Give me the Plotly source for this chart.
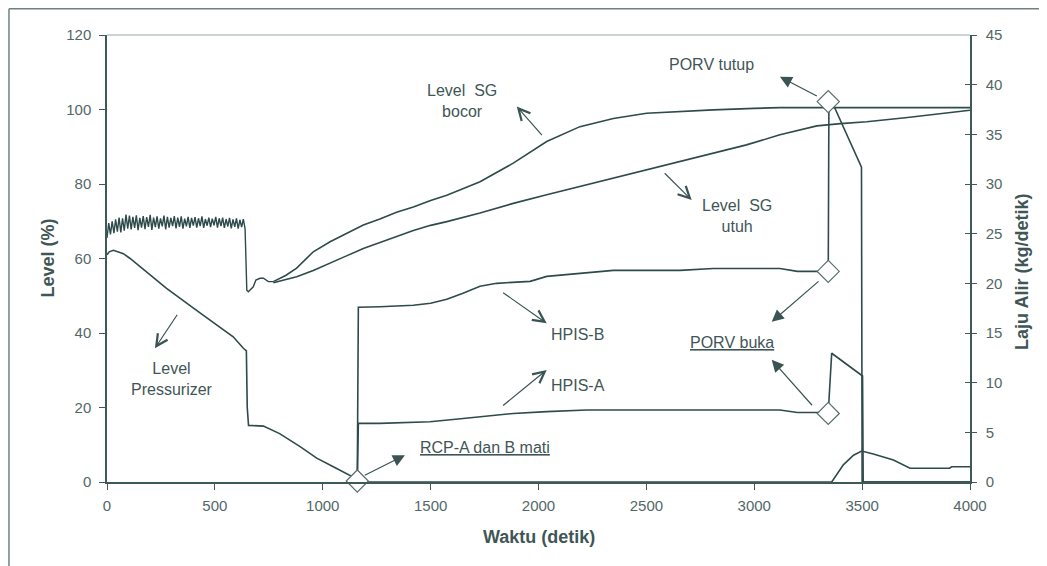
import plotly.graph_objects as go

# ---------------- data ----------------
# shared SG level (both generators identical before divergence), left axis (%)
sg_noise_t = list(range(0, 641, 8))
sg_noise_v = [65.5, 69.5, 66.5, 70.0, 66.8, 70.5, 67.2, 71.0, 67.0, 70.8,
              67.5, 71.8, 68.0, 71.5, 67.8, 71.2, 68.2, 71.6, 67.6, 70.9,
              68.3, 71.4, 67.9, 71.1, 68.5, 71.7, 67.7, 71.0, 68.4, 71.3,
              68.0, 70.8, 68.6, 71.5, 67.8, 71.2, 68.3, 70.9, 68.7, 71.4,
              68.1, 71.0, 68.5, 71.3, 68.0, 70.7, 68.6, 71.2, 68.2, 70.9,
              68.8, 71.1, 68.3, 70.8, 68.7, 71.3, 68.2, 70.6, 68.8, 71.0,
              68.4, 70.7, 68.9, 71.2, 68.3, 70.8, 68.7, 71.0, 68.2, 70.6,
              68.6, 70.9, 68.1, 70.5, 68.5, 70.8, 68.0, 70.4, 68.4, 70.6, 68.0]
sg_dip_t = [644, 648, 655, 665, 678, 690, 709, 725, 748, 771]
sg_dip_v = [60.0, 51.5, 51.1, 51.8, 52.4, 54.2, 54.7, 54.7, 53.8, 53.8]

sg_bocor_t = [771, 830, 879, 956, 1034, 1110, 1188, 1265, 1342, 1420, 1500, 1575,
              1729, 1883, 2038, 2192, 2347, 2501, 2656, 2810, 3000, 3119, 3366, 4000]
sg_bocor_v = [53.8, 55.5, 57.4, 61.8, 64.5, 66.8, 69.0, 70.6, 72.4, 73.8, 75.6, 77.0,
              80.6, 85.6, 91.4, 95.4, 97.6, 99.0, 99.5, 99.9, 100.3, 100.5, 100.5, 100.5]

sg_utuh_t = [771, 879, 956, 1034, 1110, 1188, 1265, 1342, 1420, 1500, 1575, 1729,
             1883, 2038, 2192, 2347, 2501, 2656, 2810, 2964, 3119, 3200, 3290, 3400,
             3521, 3700, 3900, 4000]
sg_utuh_v = [53.5, 55.1, 56.8, 58.7, 60.7, 62.7, 64.3, 66.0, 67.5, 68.9, 69.9, 72.2,
             74.8, 77.1, 79.3, 81.6, 83.8, 86.0, 88.2, 90.5, 93.2, 94.4, 95.6, 96.2,
             96.7, 97.8, 99.0, 99.8]

przr_t = [0, 10, 30, 76, 107, 153, 276, 431, 585, 632, 646, 650, 656, 725, 800, 895,
          972, 1049, 1142, 1165, 1172, 3359, 3413, 3460, 3498, 3552, 3645, 3722,
          3905, 3915, 4000]
przr_v = [61.0, 61.8, 62.2, 61.3, 60.0, 57.8, 52.0, 45.4, 39.0, 35.9, 35.2, 20.0,
          15.2, 15.0, 13.0, 9.5, 6.4, 4.1, 1.4, 0.6, 0.0, 0.0, 4.6, 7.2, 8.3, 7.5,
          5.9, 3.7, 3.7, 4.1, 4.1]

# HPIS flows, right axis (kg/detik)
hpis_b_t = [1160, 1165, 1265, 1420, 1500, 1575, 1650, 1729, 1806, 1961, 2038,
            2192, 2347, 2656, 2810, 3119, 3200, 3343, 3346, 3366, 3497, 3500, 4000]
hpis_b_v = [0.0, 17.6, 17.65, 17.8, 18.0, 18.4, 19.0, 19.7, 20.0, 20.2, 20.7,
            21.0, 21.3, 21.3, 21.5, 21.5, 21.2, 21.2, 37.8, 38.0, 31.7, 0.0, 0.0]

hpis_a_t = [1160, 1165, 1265, 1497, 1651, 1883, 2038, 2223, 3119, 3200, 3343,
            3359, 3502, 3505, 4000]
hpis_a_v = [0.0, 5.9, 5.9, 6.07, 6.4, 6.9, 7.08, 7.25, 7.25, 7.0, 7.0,
            12.96, 10.67, 0.0, 0.0]

# event markers (right axis)
event_t = [1160, 3343, 3343, 3343]
event_v = [0.1, 38.3, 21.2, 6.9]

x_ticks = [0, 500, 1000, 1500, 2000, 2500, 3000, 3500, 4000]
y_ticks = [0, 20, 40, 60, 80, 100, 120]
y2_ticks = [0, 5, 10, 15, 20, 25, 30, 35, 40, 45]

# ---------------- style ----------------
LINE = '#2e4a4a'
TXT = '#3f5656'
TICK = '#526767'
FONT = 'Liberation Sans, Arial, sans-serif'

fig = go.Figure()
lw = 1.6
fig.add_trace(go.Scatter(x=sg_noise_t + sg_dip_t, y=sg_noise_v + sg_dip_v, mode='lines',
                         line=dict(color=LINE, width=1.4), showlegend=False))
fig.add_trace(go.Scatter(x=sg_bocor_t, y=sg_bocor_v, mode='lines',
                         line=dict(color=LINE, width=lw), showlegend=False))
fig.add_trace(go.Scatter(x=sg_utuh_t, y=sg_utuh_v, mode='lines',
                         line=dict(color=LINE, width=lw), showlegend=False))
fig.add_trace(go.Scatter(x=przr_t, y=przr_v, mode='lines',
                         line=dict(color=LINE, width=lw), showlegend=False))
fig.add_trace(go.Scatter(x=hpis_b_t, y=hpis_b_v, mode='lines', yaxis='y2',
                         line=dict(color=LINE, width=lw), showlegend=False))
fig.add_trace(go.Scatter(x=hpis_a_t, y=hpis_a_v, mode='lines', yaxis='y2',
                         line=dict(color=LINE, width=lw), showlegend=False))
fig.add_trace(go.Scatter(x=event_t, y=event_v, mode='markers', yaxis='y2',
                         marker=dict(symbol='diamond', size=17, color='white',
                                     line=dict(color='#5a6e6e', width=1.2)),
                         showlegend=False, cliponaxis=False))

# ---------------- annotations ----------------
def txt(x, y, s, size=16):
    fig.add_annotation(x=x, y=y, xref='x', yref='y', text=s, showarrow=False,
                       xanchor='center', yanchor='middle',
                       font=dict(family=FONT, size=size, color=TXT), align='center')

def arrow(tx, ty, hx, hy, head):
    fig.add_annotation(x=hx, y=hy, ax=tx, ay=ty, xref='x', yref='y', axref='x', ayref='y',
                       text='', showarrow=True, arrowhead=head,
                       arrowsize=2.0 if head == 2 else 1.9,
                       arrowwidth=1.2, arrowcolor='#3a5454', standoff=0, startstandoff=0)

txt(1645, 102.4, 'Level  SG<br>bocor')
txt(2800, 112.2, 'PORV tutup')
txt(2918, 71.4, 'Level  SG<br>utuh')
txt(301, 27.7, 'Level<br>Pressurizer')
txt(2181, 39.5, 'HPIS-B')
txt(2181, 26.0, 'HPIS-A')
txt(1754, 9.3, '<u>RCP-A dan B mati</u>')
txt(2899, 37.5, '<u>PORV buka</u>')

arrow(2022, 92.7, 1899, 100.8, 5)
arrow(3297, 103.4, 3119, 108.8, 2)
arrow(2578, 83.3, 2710, 75.7, 5)
arrow(330, 45.3, 222, 35.9, 5)
arrow(1829, 51.1, 2038, 42.6, 5)
arrow(1829, 20.2, 2038, 30.1, 5)
arrow(1188, 1.6, 1381, 7.2, 2)
arrow(3305, 54.2, 3081, 43.0, 2)
arrow(3274, 20.2, 3081, 32.8, 2)

# axis titles
fig.add_annotation(x=-0.0695, y=0.50, xref='paper', yref='paper', text='<b>Level (%)</b>',
                   xanchor='center', yanchor='middle',
                   textangle=-90, showarrow=False, font=dict(family=FONT, size=18, color=TXT))
fig.add_annotation(x=1.0603, y=0.47, xref='paper', yref='paper', text='<b>Laju Alir (kg/detik)</b>',
                   xanchor='center', yanchor='middle',
                   textangle=-90, showarrow=False, font=dict(family=FONT, size=18, color=TXT))
fig.add_annotation(x=0.5, y=-0.123, xref='paper', yref='paper', text='<b>Waktu (detik)</b>',
                   xanchor='center', yanchor='middle',
                   showarrow=False, font=dict(family=FONT, size=18, color=TXT))

# frame and top border
fig.add_shape(type='line', xref='paper', yref='paper', x0=-0.1136, x1=1.09, y0=1.0585, y1=1.0585,
              line=dict(color='#6f8282', width=1.5))
fig.add_shape(type='line', xref='paper', yref='paper', x0=-0.1136, x1=-0.1136, y0=1.0585, y1=-0.19,
              line=dict(color='#6f8282', width=1.5))
fig.add_shape(type='line', xref='paper', yref='paper', x0=0, x1=1, y0=1, y1=1,
              line=dict(color='#9aa8a8', width=1.2))

axis_common = dict(showgrid=False, zeroline=False, showline=True, linecolor='#3f5858',
                   linewidth=1.5, tickcolor='#3f5858', tickwidth=1.2,
                   tickfont=dict(family=FONT, size=15, color=TICK))

# page body has an 8px default margin, so the figure is sized 8px smaller
fig.update_layout(
    width=1039, height=558, autosize=False,
    margin=dict(l=99, r=77, t=27, b=84),
    paper_bgcolor='white', plot_bgcolor='white',
    xaxis=dict(range=[0, 4000], tickvals=x_ticks, ticks='outside', ticklen=6,
               ticklabelstandoff=3, **axis_common),
    yaxis=dict(range=[0, 120], tickvals=y_ticks, ticks='outside', ticklen=6,
               ticklabelstandoff=5, **axis_common),
    yaxis2=dict(range=[0, 45], tickvals=y2_ticks, ticks='outside', ticklen=5, side='right',
                overlaying='y', anchor='x', ticklabelstandoff=6, **axis_common),
    yaxis3=dict(range=[0, 45], tickvals=y2_ticks, ticks='inside', ticklen=5, side='right',
                overlaying='y', anchor='x', showticklabels=False, showgrid=False,
                zeroline=False, showline=False, tickcolor='#3f5858', tickwidth=1.2),
)
# invisible trace to activate yaxis3 (inside half of the crossing ticks)
fig.add_trace(go.Scatter(x=[0], y=[0], yaxis='y3', mode='markers',
                         marker=dict(opacity=0), showlegend=False, hoverinfo='skip'))

fig.write_html('out.html')
